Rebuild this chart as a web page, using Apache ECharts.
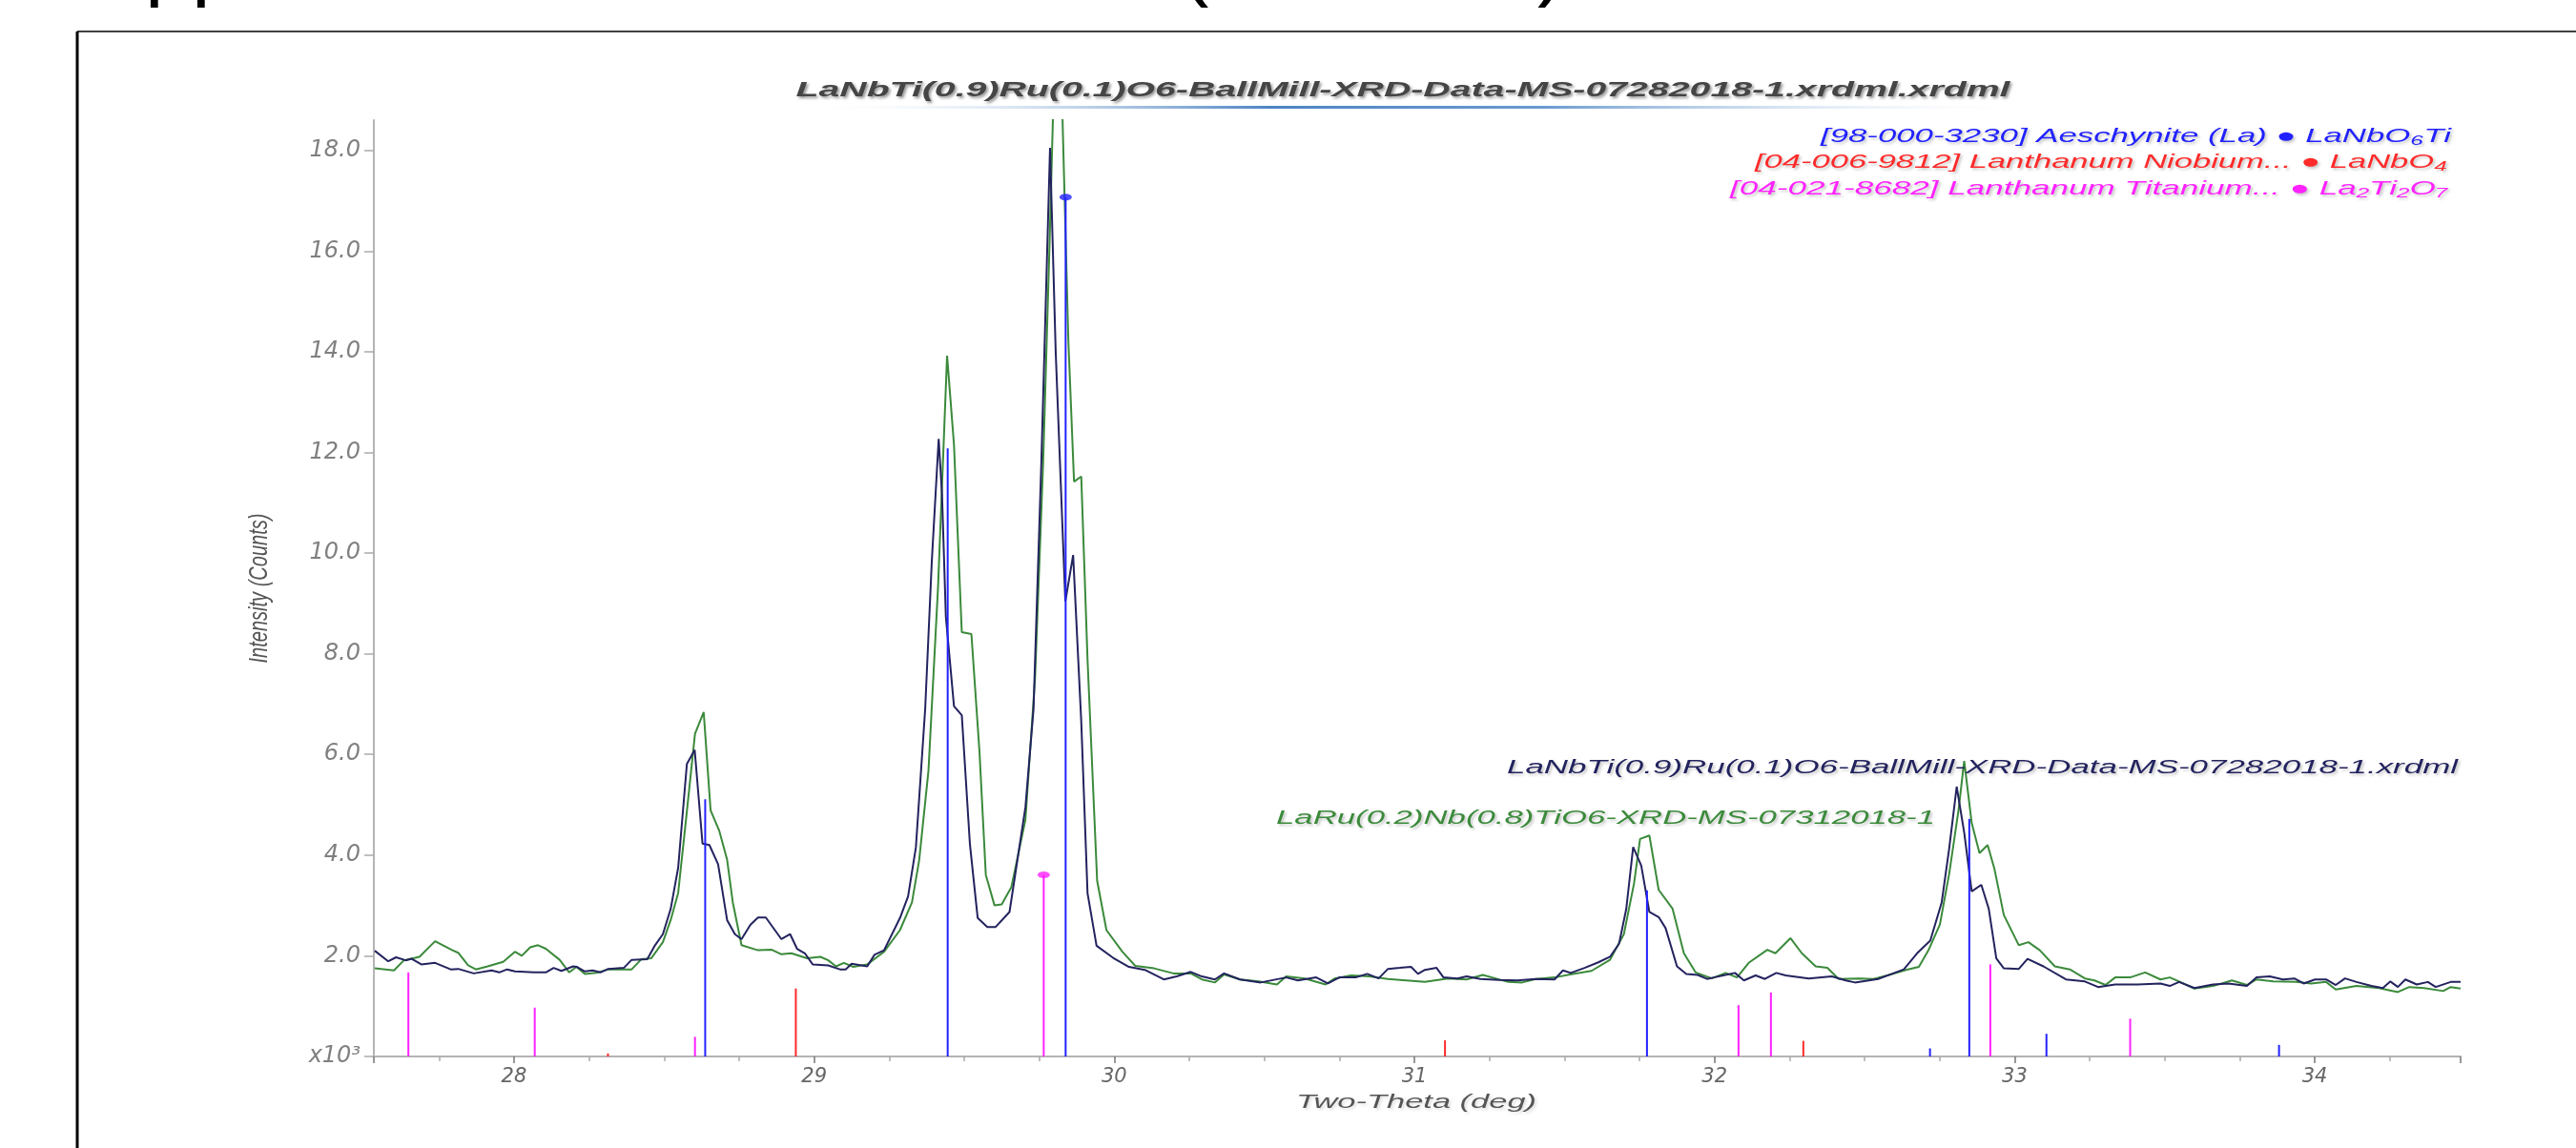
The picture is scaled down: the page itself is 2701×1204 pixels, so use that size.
<!DOCTYPE html>
<html>
<head>
<meta charset="utf-8">
<title>XRD comparison</title>
<script src="https://cdn.jsdelivr.net/npm/echarts@6/dist/echarts.min.js"></script>
<style>
  html, body { margin: 0; padding: 0; background: #fff; }
  #chart { width: 2701px; height: 1204px; }
</style>
</head>
<body>
<div id="chart"></div>
<script>
// measured scans: [two-theta (deg), intensity (x10^3 counts)]
var ballMillScan = [
  [27.536,2.10],[27.581,1.89],[27.607,1.97],[27.639,1.91],[27.659,1.94],[27.691,1.83],[27.737,1.86],[27.789,1.73],
  [27.814,1.74],[27.866,1.65],[27.925,1.71],[27.951,1.67],[27.977,1.73],[28.003,1.69],[28.067,1.67],[28.106,1.67],
  [28.132,1.76],[28.158,1.70],[28.197,1.79],[28.210,1.78],[28.236,1.69],[28.262,1.71],[28.288,1.67],[28.314,1.74],
  [28.366,1.76],[28.392,1.92],[28.444,1.93],[28.470,2.21],[28.496,2.43],[28.522,2.93],[28.547,3.75],[28.576,5.81],
  [28.602,6.09],[28.628,4.23],[28.651,4.20],[28.680,3.82],[28.710,2.71],[28.736,2.43],[28.758,2.33],[28.788,2.62],
  [28.813,2.76],[28.839,2.76],[28.891,2.33],[28.920,2.43],[28.943,2.14],[28.969,2.05],[28.995,1.83],[29.047,1.81],
  [29.086,1.73],[29.105,1.73],[29.125,1.84],[29.177,1.79],[29.201,2.02],[29.233,2.11],[29.286,2.75],[29.313,3.18],
  [29.339,4.15],[29.370,6.90],[29.392,9.83],[29.415,12.27],[29.426,11.18],[29.439,8.73],[29.466,6.96],[29.492,6.78],
  [29.519,4.22],[29.545,2.75],[29.577,2.57],[29.604,2.57],[29.651,2.87],[29.704,4.95],[29.731,6.90],[29.757,11.79],
  [29.786,18.05],[29.805,13.98],[29.837,9.04],[29.863,9.96],[29.890,6.66],[29.911,3.24],[29.941,2.20],[29.996,1.96],
  [30.049,1.78],[30.102,1.72],[30.165,1.53],[30.208,1.59],[30.255,1.68],[30.292,1.59],[30.335,1.53],[30.366,1.65],
  [30.419,1.53],[30.488,1.47],[30.573,1.57],[30.612,1.51],[30.673,1.57],[30.712,1.45],[30.750,1.57],[30.804,1.57],
  [30.843,1.64],[30.881,1.55],[30.912,1.74],[30.951,1.76],[30.989,1.78],[31.012,1.64],[31.035,1.72],[31.074,1.76],
  [31.097,1.57],[31.143,1.55],[31.174,1.59],[31.220,1.54],[31.282,1.52],[31.343,1.51],[31.405,1.54],[31.467,1.53],
  [31.495,1.71],[31.521,1.66],[31.567,1.76],[31.613,1.87],[31.652,1.98],[31.682,2.24],[31.706,2.93],[31.729,4.16],
  [31.756,3.79],[31.783,2.87],[31.814,2.77],[31.837,2.55],[31.875,1.79],[31.906,1.64],[31.944,1.62],[31.975,1.54],
  [31.998,1.57],[32.029,1.61],[32.068,1.66],[32.098,1.51],[32.137,1.61],[32.168,1.54],[32.206,1.66],[32.237,1.61],
  [32.314,1.55],[32.391,1.59],[32.437,1.51],[32.468,1.47],[32.545,1.54],[32.591,1.64],[32.631,1.73],[32.675,2.05],
  [32.719,2.30],[32.757,3.06],[32.782,4.13],[32.807,5.36],[32.832,4.45],[32.857,3.28],[32.889,3.41],[32.914,2.93],
  [32.939,1.95],[32.964,1.75],[33.014,1.74],[33.043,1.94],[33.096,1.79],[33.171,1.53],[33.234,1.49],[33.278,1.38],
  [33.335,1.43],[33.410,1.43],[33.486,1.45],[33.517,1.40],[33.548,1.48],[33.599,1.36],[33.661,1.43],[33.712,1.45],
  [33.774,1.40],[33.806,1.57],[33.850,1.59],[33.894,1.53],[33.932,1.55],[33.963,1.45],[34.001,1.53],[34.038,1.53],
  [34.070,1.42],[34.101,1.55],[34.139,1.48],[34.189,1.40],[34.227,1.36],[34.252,1.49],[34.277,1.38],[34.302,1.53],
  [34.340,1.43],[34.377,1.48],[34.403,1.38],[34.453,1.48],[34.486,1.48]
];

var ruNbScan = [
  [27.536,1.75],[27.600,1.71],[27.633,1.91],[27.685,1.98],[27.737,2.29],[27.795,2.11],[27.814,2.06],[27.847,1.81],
  [27.873,1.73],[27.912,1.79],[27.964,1.88],[28.003,2.08],[28.026,2.00],[28.054,2.17],[28.080,2.21],[28.106,2.14],
  [28.152,1.92],[28.184,1.67],[28.208,1.78],[28.236,1.64],[28.275,1.66],[28.314,1.73],[28.392,1.73],[28.424,1.93],
  [28.457,1.95],[28.496,2.27],[28.522,2.71],[28.547,3.25],[28.573,4.70],[28.603,6.41],[28.632,6.84],[28.655,4.89],
  [28.684,4.48],[28.710,3.91],[28.729,3.06],[28.758,2.21],[28.813,2.11],[28.859,2.12],[28.891,2.03],[28.924,2.05],
  [28.976,1.95],[29.021,1.98],[29.047,1.91],[29.073,1.79],[29.099,1.86],[29.131,1.78],[29.177,1.83],[29.233,2.08],
  [29.286,2.51],[29.326,3.06],[29.350,3.90],[29.381,5.68],[29.413,9.34],[29.443,13.92],[29.466,12.15],[29.492,8.43],
  [29.524,8.39],[29.551,6.05],[29.572,3.61],[29.601,3.00],[29.625,3.02],[29.657,3.36],[29.704,4.70],[29.736,7.51],
  [29.763,11.79],[29.784,16.06],[29.800,19.60],[29.815,19.80],[29.826,19.00],[29.847,14.23],[29.866,11.42],[29.890,11.52],
  [29.911,7.88],[29.943,3.49],[29.974,2.51],[30.027,2.08],[30.070,1.80],[30.133,1.75],[30.197,1.65],[30.255,1.65],
  [30.292,1.53],[30.335,1.47],[30.366,1.63],[30.419,1.53],[30.481,1.49],[30.542,1.43],[30.573,1.59],[30.635,1.55],
  [30.704,1.43],[30.735,1.55],[30.789,1.61],[30.850,1.59],[30.912,1.54],[30.973,1.51],[31.035,1.48],[31.112,1.55],
  [31.174,1.53],[31.228,1.62],[31.313,1.48],[31.359,1.47],[31.405,1.54],[31.467,1.57],[31.528,1.64],[31.590,1.70],
  [31.652,1.92],[31.698,2.43],[31.732,3.44],[31.752,4.32],[31.783,4.39],[31.814,3.31],[31.860,2.94],[31.898,2.05],
  [31.937,1.67],[31.991,1.55],[32.037,1.66],[32.075,1.57],[32.114,1.86],[32.176,2.12],[32.203,2.05],[32.253,2.35],
  [32.291,2.05],[32.337,1.79],[32.376,1.76],[32.414,1.54],[32.483,1.55],[32.530,1.54],[32.576,1.61],[32.638,1.72],
  [32.681,1.78],[32.713,2.11],[32.751,2.62],[32.782,3.63],[32.813,4.89],[32.832,5.87],[32.857,4.64],[32.883,4.04],
  [32.910,4.20],[32.933,3.72],[32.964,2.81],[33.014,2.21],[33.046,2.27],[33.084,2.11],[33.134,1.79],[33.184,1.73],
  [33.234,1.55],[33.266,1.51],[33.303,1.42],[33.335,1.57],[33.385,1.57],[33.435,1.67],[33.486,1.53],[33.517,1.57],
  [33.548,1.49],[33.599,1.35],[33.661,1.40],[33.724,1.51],[33.774,1.42],[33.806,1.53],[33.862,1.49],[33.938,1.48],
  [33.988,1.45],[34.038,1.48],[34.070,1.33],[34.139,1.40],[34.214,1.36],[34.277,1.28],[34.315,1.38],[34.365,1.36],
  [34.428,1.30],[34.453,1.38],[34.486,1.35]
];

// reference patterns: stick positions and heights
var aeschPos = [28.637, 29.445, 29.838, 31.775, 32.718, 32.849, 33.106, 33.881];
var aeschInt = [5.11, 12.08, 17.07, 3.30, 0.16, 4.72, 0.45, 0.23];
var niobPos = [28.313, 28.939, 31.102, 32.296];
var niobInt = [0.06, 1.35, 0.32, 0.31];
var titanPos = [27.648, 28.069, 28.603, 29.765, 32.080, 32.188, 32.919, 33.385];
var titanInt = [1.67, 0.97, 0.39, 3.61, 1.02, 1.27, 1.83, 0.75];
// index of the stick that carries the phase marker dot
var aeschMark = 2;
var titanMark = 3;

var chartTitle = 'LaNbTi(0.9)Ru(0.1)O6-BallMill-XRD-Data-MS-07282018-1.xrdml.xrdml';
var ballMillName = 'LaNbTi(0.9)Ru(0.1)O6-BallMill-XRD-Data-MS-07282018-1.xrdml';
var ruNbName = 'LaRu(0.2)Nb(0.8)TiO6-XRD-MS-07312018-1';
var phaseNames = [
  '[98-000-3230] Aeschynite (La) \u25CF LaNbO\u2086Ti',
  '[04-006-9812] Lanthanum Niobium... \u25CF LaNbO\u2084',
  '[04-021-8682] Lanthanum Titanium... \u25CF La\u2082Ti\u2082O\u2087'
];

var NAVY = '#23235f', GREEN = '#3b8a3b', BLUE = '#2222ff', RED = '#ff2a2a', MAGENTA = '#ff22ff';

var measure = document.createElement('canvas').getContext('2d');
function italic(size, weight) {
  return 'italic ' + (weight || 'normal') + ' ' + size + 'px "Liberation Sans", Arial, sans-serif';
}
function textEl(text, x, y, o) {
  var sx = o.scaleX || 1;
  if (o.width) {
    measure.font = o.font;
    sx = o.width / measure.measureText(text).width;
  }
  return {
    type: 'text', x: x, y: y, z: 100, silent: true,
    rotation: o.rotation || 0, scaleX: sx, scaleY: o.scaleY || 1,
    style: {
      text: text, font: o.font, fill: o.color,
      align: o.align || 'left', textAlign: o.align || 'left',
      verticalAlign: 'middle', textVerticalAlign: 'middle',
      textShadowColor: o.shadow || 'rgba(0,0,0,0)', textShadowBlur: o.shadow ? 3 : 0,
      textShadowOffsetX: o.shadow ? 2 : 0, textShadowOffsetY: o.shadow ? 2 : 0
    }
  };
}

function stickSeries(name, pos, inten, color) {
  return {
    name: name,
    type: 'custom',
    clip: true,
    silent: true,
    z: 5,
    data: pos.map(function (p, i) { return [p, inten[i]]; }),
    encode: { x: 0, y: 1 },
    renderItem: function (params, api) {
      var top = api.coord([api.value(0), api.value(1)]);
      var base = api.coord([api.value(0), 0]);
      return {
        type: 'line',
        shape: { x1: base[0], y1: base[1], x2: top[0], y2: top[1] },
        style: { stroke: color, lineWidth: 2 }
      };
    }
  };
}

var shade = 'rgba(0,0,0,0.22)';
var headFont = '90px "Liberation Sans", Arial, sans-serif';
var graphics = [
  // slide frame
  { type: 'line', silent: true, shape: { x1: 81, y1: 33, x2: 2701, y2: 33 }, style: { stroke: '#000', lineWidth: 1.5 } },
  { type: 'line', silent: true, shape: { x1: 81, y1: 33, x2: 81, y2: 1204 }, style: { stroke: '#000', lineWidth: 3 } },
  // slide heading, cut off at the top edge (only descenders show)
  textEl('pp', 152, -36, { font: headFont, color: '#000', scaleX: 0.98 }),
  textEl('(', 1238, -36, { font: headFont, color: '#000', scaleX: 0.98 }),
  textEl(')', 1612, -36, { font: headFont, color: '#000', scaleX: 0.98 }),
  // chart title with its gradient rule
  {
    type: 'rect', silent: true, shape: { x: 835, y: 111, width: 1305, height: 3 },
    style: {
      fill: {
        type: 'linear', x: 0, y: 0, x2: 1, y2: 0,
        colorStops: [
          { offset: 0, color: 'rgba(255,255,255,0)' },
          { offset: 0.38, color: '#4d84c4' },
          { offset: 0.6, color: '#6a9ad0' },
          { offset: 1, color: 'rgba(255,255,255,0)' }
        ]
      }
    }
  },
  textEl(chartTitle, 1471, 95, { font: italic(22, 'bold'), color: '#454545', align: 'center', width: 1273, shadow: 'rgba(0,0,0,0.4)' }),
  // phase legend
  textEl(phaseNames[0], 2570, 143, { font: italic(21), color: BLUE, align: 'right', width: 661, shadow: shade }),
  textEl(phaseNames[1], 2566, 170, { font: italic(21), color: RED, align: 'right', width: 726, shadow: shade }),
  textEl(phaseNames[2], 2566, 198, { font: italic(21), color: MAGENTA, align: 'right', width: 752, shadow: shade }),
  // scan labels
  textEl(ballMillName, 2577, 805, { font: italic(20), color: NAVY, align: 'right', width: 997, shadow: shade }),
  textEl(ruNbName, 1338, 858, { font: italic(20), color: GREEN, align: 'left', width: 691, shadow: shade }),
  // axis names
  textEl('Two-Theta (deg)', 1485, 1156, { font: italic(21), color: '#555', align: 'center', width: 252, shadow: 'rgba(0,0,0,0.12)' }),
  textEl('Intensity (Counts)', 272, 617, { font: italic(20), color: '#555', align: 'center', width: 157, scaleY: 1.4, rotation: Math.PI / 2 })
];

var chart = echarts.init(document.getElementById('chart'));
chart.setOption({
  animation: false,
  backgroundColor: '#fff',
  grid: { left: 392, right: 121, top: 126, bottom: 96 },
  xAxis: {
    type: 'value',
    min: 27.533,
    max: 34.486,
    splitNumber: 7,
    axisLine: { lineStyle: { color: '#b4b4b4', width: 2 } },
    axisTick: { show: true, length: 7, lineStyle: { color: '#777', width: 1.5 } },
    minorTick: { show: true, splitNumber: 4, length: 5, lineStyle: { color: '#aaa', width: 1.5 } },
    splitLine: { show: false },
    axisLabel: {
      showMinLabel: false, showMaxLabel: false, margin: 11,
      fontFamily: 'DejaVu Sans', fontStyle: 'italic', fontSize: 21, color: '#666'
    }
  },
  yAxis: {
    type: 'value',
    min: 0,
    max: 18.6,
    interval: 2,
    axisLine: { show: true, lineStyle: { color: '#b4b4b4', width: 2 } },
    axisTick: { show: true, length: 10, lineStyle: { color: '#aaa', width: 1.5 } },
    splitLine: { show: false },
    axisLabel: {
      showMaxLabel: false, margin: 14,
      fontFamily: 'DejaVu Sans', fontStyle: 'italic', fontSize: 24, color: '#808080',
      formatter: function (v) { return v === 0 ? 'x10\u00B3' : v.toFixed(1); }
    }
  },
  series: [
    {
      name: ruNbName, type: 'line', data: ruNbScan, showSymbol: false, clip: true, z: 2,
      lineStyle: { color: GREEN, width: 2 }, itemStyle: { color: GREEN }
    },
    {
      name: ballMillName, type: 'line', data: ballMillScan, showSymbol: false, clip: true, z: 3,
      lineStyle: { color: NAVY, width: 2 }, itemStyle: { color: NAVY }
    },
    stickSeries('Aeschynite (La)', aeschPos, aeschInt, BLUE),
    stickSeries('Lanthanum Niobium', niobPos, niobInt, RED),
    stickSeries('Lanthanum Titanium', titanPos, titanInt, MAGENTA),
    {
      type: 'scatter', silent: true, z: 6, symbol: 'circle', symbolSize: [13, 7],
      data: [[aeschPos[aeschMark], aeschInt[aeschMark]]], itemStyle: { color: BLUE }
    },
    {
      type: 'scatter', silent: true, z: 6, symbol: 'circle', symbolSize: [13, 7],
      data: [[titanPos[titanMark], titanInt[titanMark]]], itemStyle: { color: MAGENTA }
    }
  ],
  graphic: { elements: graphics }
});
</script>
</body>
</html>
